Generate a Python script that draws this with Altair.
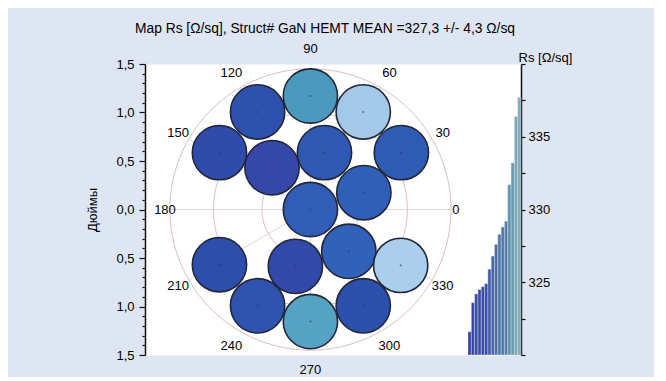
import altair as alt
import numpy as np
import pandas as pd

TITLE = "Map Rs [Ω/sq], Struct# GaN HEMT MEAN =327,3 +/- 4,3 Ω/sq"

# measurement sites (inches) and sheet resistance (Ohm/sq)
site_x = [0.0, 0.545, -0.545, -0.938, -0.396, 0.145, 0.938, 0.0,
          0.551, -0.938, -0.155, 0.396, 0.931, -0.545, 0.0, 0.545]
site_y = [1.17, 1.006, 1.006, 0.586, 0.431, 0.586, 0.586, 0.0,
          0.173, -0.569, -0.586, -0.431, -0.576, -0.993, -1.155, -0.993]
site_rs = [331.7, 336.4, 324.9, 324.2, 321.6, 326.8, 327.6, 328.3,
           328.8, 324.5, 323.6, 329.2, 337.7, 325.9, 333.2, 324.7]

angle_labels = [0, 30, 60, 90, 120, 150, 180, 210, 240, 270, 300, 330]
ring_radii = [0.5, 1.0, 1.45]
y_tick_values = [round(-1.5 + 0.1 * i, 1) for i in range(31)]
cb_tick_values = [320, 322.5, 325, 327.5, 330, 332.5, 335, 337.5, 340]

site_color_domain = [321.5, 323.8, 324.5, 329.5, 331.5, 334.0, 336.0, 338.0]
site_color_range = ["#3547a8", "#3349aa", "#2d4fab", "#3162b9", "#4a98bb",
                    "#5aa7c6", "#a2c6e6", "#accfec"]
bar_color_domain = [321.0, 325.0, 328.0, 332.0, 338.0]
bar_color_range = ["#3a3c98", "#3b4ea6", "#4f74a8", "#5f93ad", "#86acbb"]

FONT = "Liberation Sans"

sites = pd.DataFrame({"x": site_x, "y": site_y, "rs": site_rs})

# polar grid
ring_rows = []
for r in ring_radii:
    for k, a in enumerate(np.linspace(0, 2 * np.pi, 121)):
        ring_rows.append({"ring": r, "o": k, "x": r * np.cos(a), "y": r * np.sin(a)})
rings = pd.DataFrame(ring_rows)

R_OUT = ring_radii[-1]
spoke_rows = []
for ang in angle_labels:
    t = np.deg2rad(ang)
    spoke_rows.append({"ang": ang, "o": 0, "x": 0.0, "y": 0.0})
    spoke_rows.append({"ang": ang, "o": 1, "x": R_OUT * np.cos(t), "y": R_OUT * np.sin(t)})
spokes = pd.DataFrame(spoke_rows)

lab_rows = []
for ang in angle_labels:
    t = np.deg2rad(ang)
    rl = 1.50 + 0.15 * abs(np.sin(t))
    lab_rows.append({"txt": str(ang), "x": rl * np.cos(t), "y": rl * np.sin(t)})
labels = pd.DataFrame(lab_rows)

is_major = "abs(round(datum.value*10) % 5) == 0"
x_enc = alt.X("x:Q", scale=alt.Scale(domain=[-1.706, 2.172], nice=False, zero=False), axis=None)
y_enc = alt.Y(
    "y:Q",
    scale=alt.Scale(domain=[-1.5, 1.5], nice=False, zero=False),
    axis=alt.Axis(
        orient="left",
        values=y_tick_values,
        labelExpr=f"{is_major} ? replace(format(abs(datum.value), '.1f'), '.', ',') : ''",
        tickSize={"condition": {"test": is_major, "value": 6}, "value": 3},
        labelPadding=5,
        title="Дюймы",
        titlePadding=16,
        grid=False,
    ),
)
site_scale = alt.Scale(domain=site_color_domain, range=site_color_range, interpolate="rgb")

ring_layer = alt.Chart(rings).mark_line(color="#d6c2be", strokeWidth=1).encode(
    x=x_enc, y=y_enc, detail="ring:N", order="o:Q"
)
spoke_layer = alt.Chart(spokes).mark_line(color="#e2d6d3", strokeWidth=1).encode(
    x=x_enc, y=y_enc, detail="ang:N", order="o:Q"
)
circle_layer = alt.Chart(sites).mark_circle(
    size=2950, opacity=1, stroke="#23263a", strokeWidth=1.6
).encode(x=x_enc, y=y_enc, color=alt.Color("rs:Q", scale=site_scale, legend=None))
dot_layer = alt.Chart(sites).mark_circle(size=4, color="#2a2f55", opacity=0.6).encode(
    x=x_enc, y=y_enc
)
label_layer = alt.Chart(labels).mark_text(
    font=FONT, fontSize=13, color="black", align="center", baseline="middle"
).encode(x=x_enc, y=y_enc, text="txt:N")

wafer = alt.layer(ring_layer, spoke_layer, circle_layer, dot_layer, label_layer)

sorted_rs = sorted(site_rs)
bars = pd.DataFrame({
    "x0": list(range(len(sorted_rs))),
    "x1": [i + 1 for i in range(len(sorted_rs))],
    "value": sorted_rs,
})
bars["base"] = 320
n_bars = len(sorted_rs)
bar_x_low = n_bars - n_bars * 376 / 53.0

bar_layer = alt.Chart(bars).mark_bar(stroke="#e6ecf3", strokeWidth=0.4).encode(
    x=alt.X("x0:Q", axis=None, scale=alt.Scale(domain=[bar_x_low, n_bars], nice=False, zero=False)),
    x2="x1:Q",
    y=alt.Y(
        "value:Q",
        scale=alt.Scale(domain=[320, 340], nice=False, zero=False),
        axis=alt.Axis(
            orient="right",
            values=cb_tick_values,
            labelExpr="(datum.value == 325 || datum.value == 330 || datum.value == 335) ? datum.value : ''",
            tickSize=4,
            labelPadding=3,
            title="Rs [Ω/sq]",
            titleAngle=0,
            titleAlign="center",
            titleBaseline="bottom",
            titleX=24,
            titleY=0,
            grid=False,
        ),
    ),
    y2="base:Q",
    color=alt.Color(
        "value:Q",
        scale=alt.Scale(domain=bar_color_domain, range=bar_color_range, interpolate="rgb"),
        legend=None,
    ),
)

chart = (
    alt.layer(wafer, bar_layer)
    .resolve_scale(x="independent", y="independent", color="independent")
    .properties(
        width=376,
        height=291,
        title=alt.TitleParams(
            text=TITLE, font=FONT, fontSize=13.8, fontWeight="normal", color="black",
            anchor="middle", offset=8, dx=-8,
        ),
        padding={"left": 78, "top": 13, "right": 82, "bottom": 0},
        background="#dfe6f3",
    )
    .configure_view(stroke="transparent", fill="white")
    .configure_axis(
        domainColor="#111111", domainWidth=1.5, tickColor="#111111", tickWidth=1.2,
        labelFont=FONT, labelFontSize=13, labelColor="black",
        titleFont=FONT, titleFontSize=13, titleFontWeight="normal", titleColor="black",
    )
)

chart.save("out.html", embed_options={"renderer": "svg", "actions": False})
